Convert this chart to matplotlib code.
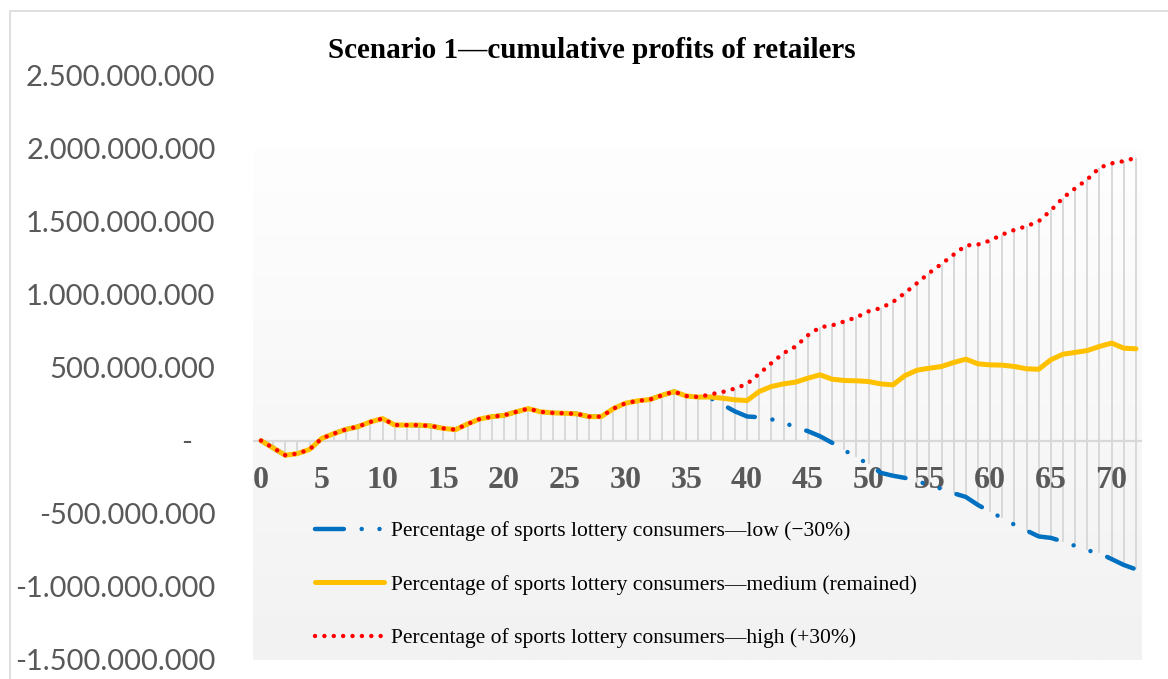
import numpy as np
import matplotlib
matplotlib.use("Agg")
import matplotlib.pyplot as plt
from matplotlib.patches import Rectangle

# valores en millones, periodos 0..72
comun = [0, -50, -100, -89, -60, 15, 48, 77, 96, 128, 151, 107, 106, 106, 100, 84, 75,
         114, 148, 164, 173, 197, 219, 197, 190, 187, 183, 164, 164, 219, 256, 272, 281,
         310, 335, 305, 298]
cola_baja = [290, 245, 200, 165, 160, 146, 125, 90, 65, 30, -15, -65, -115, -160, -220,
             -240, -255, -280, -300, -330, -360, -385, -440, -485, -530, -575, -615, -655,
             -665, -690, -720, -750, -770, -810, -850, -880]
cola_media = [298, 290, 279, 274, 336, 370, 388, 400, 427, 450, 420, 411, 409, 404, 388,
              381, 445, 482, 495, 507, 534, 557, 525, 518, 516, 507, 491, 488, 553, 591,
              603, 616, 644, 667, 632, 628]
cola_alta = [317, 333, 356, 388, 457, 530, 598, 644, 720, 775, 788, 815, 843, 884, 906,
             948, 1010, 1078, 1147, 1208, 1272, 1334, 1341, 1368, 1409, 1441, 1466, 1500,
             1574, 1660, 1725, 1786, 1866, 1896, 1911, 1934]

etiquetas = ["Percentage of sports lottery consumers\u2014low (\u221230%)",
             "Percentage of sports lottery consumers\u2014medium (remained)",
             "Percentage of sports lottery consumers\u2014high (+30%)"]
titulo = "Scenario 1\u2014cumulative profits of retailers"
ticks_x = list(range(0, 71, 5))
ticks_y = [-1.5e9, -1.0e9, -0.5e9, 0, 0.5e9, 1.0e9, 1.5e9, 2.0e9, 2.5e9]

periodos = np.arange(len(comun) + len(cola_baja))
baja = np.array(comun + cola_baja) * 1e6
media = np.array(comun + cola_media) * 1e6
alta = np.array(comun + cola_alta) * 1e6

W, H = 1168, 679
fig = plt.figure(figsize=(W / 100, H / 100), dpi=100)
ax = fig.add_axes([253 / W, 19 / H, (1142 - 253) / W, (660 - 75) / H])
ax.set_facecolor("none")
ax.set_xlim(-0.66, 72.5)
ax.set_ylim(-1.5e9, 2.5e9)

# borde del gráfico
fig.patches.append(Rectangle((10 / W, -0.2), 1.2, 1.2 - 11 / H, transform=fig.transFigure,
                             fill=False, edgecolor="#d9d9d9", lw=1.2, zorder=0))

# fondo degradado del área de trazado
grad = np.linspace(0, 1, 256).reshape(-1, 1)
ax.imshow(grad, extent=[0, 1, 0, (660 - 149) / (660 - 75)], transform=ax.transAxes,
          cmap=matplotlib.colors.LinearSegmentedColormap.from_list("g", ["#fefefe", "#f2f2f2"]),
          origin="upper", aspect="auto", zorder=0, interpolation="bilinear")

# líneas de caída
for serie in (baja, media, alta):
    ax.vlines(periodos, 0, serie, color="#d9d9d9", lw=1.4, zorder=1)
ax.axhline(0, color="#d9d9d9", lw=1.6, zorder=1)

ax.plot(periodos, baja, color="#0070C0", lw=3.2, linestyle=(0, (6.5, 4, 0.01, 4, 0.01, 4)),
        dash_capstyle="round", label=etiquetas[0], zorder=3)
ax.plot(periodos, media, color="#FFC000", lw=3.6, solid_capstyle="round",
        label=etiquetas[1], zorder=3)
ax.plot(periodos, alta, color="#FF0000", lw=3.2, linestyle=(0, (0.01, 2.1)),
        dash_capstyle="round", label=etiquetas[2], zorder=4)

for s in ax.spines.values():
    s.set_visible(False)
ax.spines["bottom"].set_position(("data", 0))

ax.set_xticks(ticks_x)
ax.set_xticklabels([str(t) for t in ticks_x], fontfamily="Liberation Serif",
                   fontweight="bold", fontsize=23, color="#595959")
ax.tick_params(axis="x", length=0, pad=18)

def fmt(v):
    if v == 0:
        return "-   "
    return f"{v:,.0f}".replace(",", ".")

ax.set_yticks(ticks_y)
ax.set_yticklabels([fmt(v) for v in ticks_y], fontfamily="Lato", fontsize=21, color="#595959")
ax.tick_params(axis="y", length=0, pad=27)

fig.text(592 / W, 1 - 51 / H, titulo, ha="center", va="center",
         fontfamily="Liberation Serif", fontweight="bold", fontsize=21, color="black")

leg = ax.legend(loc="upper left", bbox_to_anchor=(315 / W, 1 - 521 / H),
                bbox_transform=fig.transFigure, frameon=False,
                prop={"family": "Liberation Serif", "size": 15.5},
                handlelength=3.2, handletextpad=0.32, labelspacing=1.56,
                borderaxespad=0, borderpad=0)
for t in leg.get_texts():
    t.set_color("black")

plt.savefig("out.png", dpi=100)
plt.close()
